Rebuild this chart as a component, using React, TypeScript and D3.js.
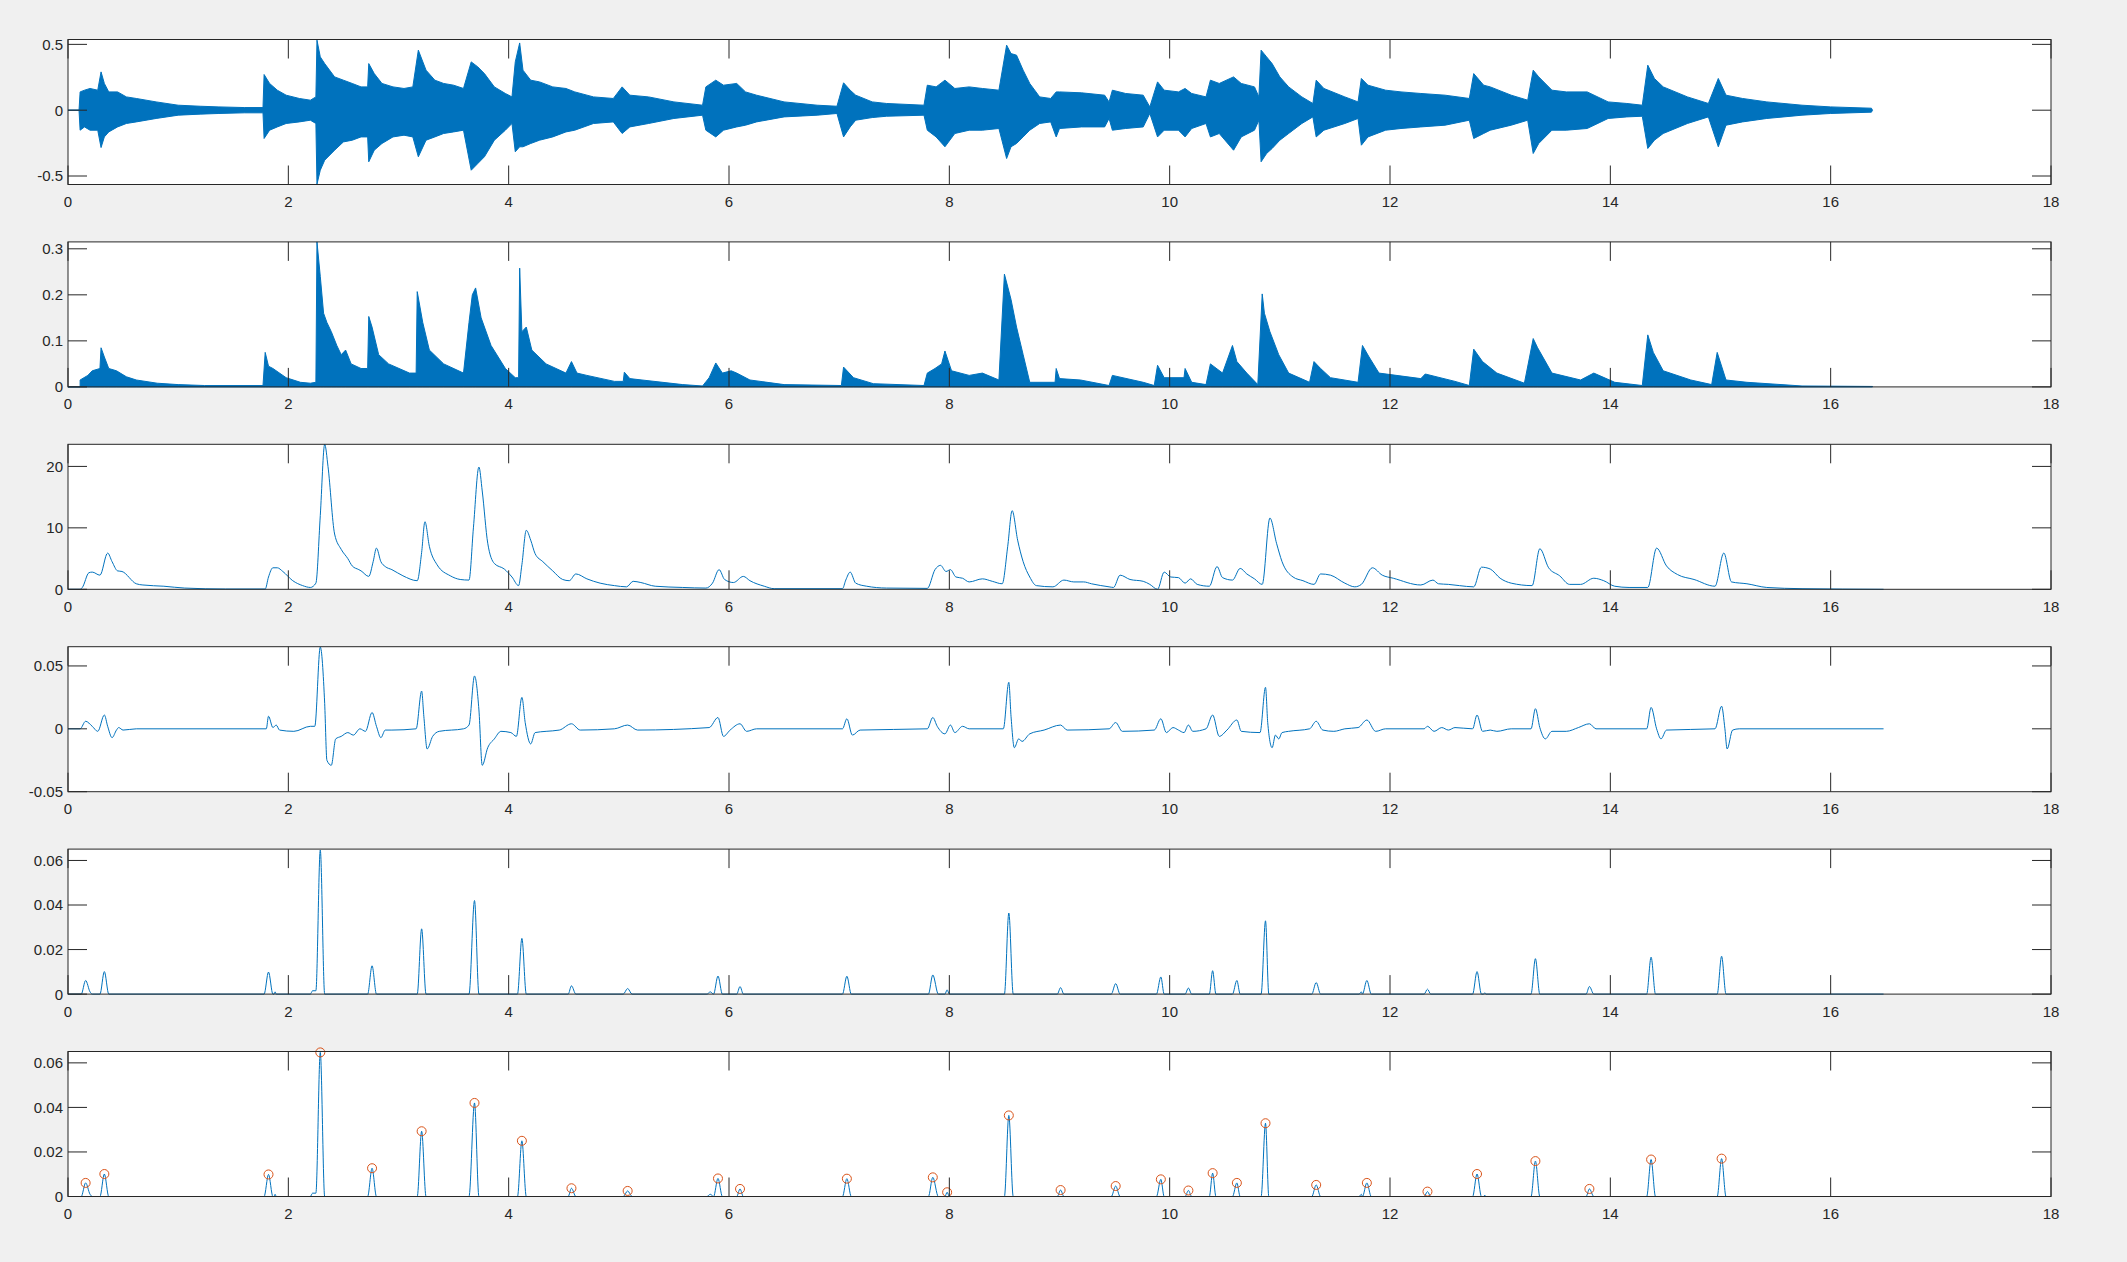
import React from "react";
import * as d3 from "d3";

// ---------- data ----------
const X_TICKS = [0, 2, 4, 6, 8, 10, 12, 14, 16, 18];

// panel 1: waveform envelope [t, upper, lower]
const waveEnvelope: [number, number, number][] = [
  [0, 0, 0], [0.1, 0, 0], [0.11, 0.139, -0.152], [0.15, 0.152, -0.127], [0.2, 0.165, -0.152], [0.27, 0.152, -0.152],
  [0.3, 0.291, -0.284], [0.33, 0.203, -0.203], [0.37, 0.139, -0.165], [0.45, 0.139, -0.127], [0.53, 0.101, -0.101],
  [0.62, 0.089, -0.089], [0.8, 0.063, -0.063], [1.0, 0.038, -0.038], [1.2, 0.03, -0.03], [1.37, 0.025, -0.025],
  [1.6, 0.02, -0.02], [1.77, 0.02, -0.02], [1.78, 0.271, -0.215], [1.83, 0.203, -0.152], [1.9, 0.152, -0.127],
  [1.98, 0.114, -0.101], [2.1, 0.089, -0.089], [2.2, 0.076, -0.076], [2.25, 0.101, -0.101], [2.26, 0.532, -0.562],
  [2.29, 0.405, -0.456], [2.33, 0.354, -0.38], [2.42, 0.253, -0.304], [2.5, 0.228, -0.241], [2.58, 0.203, -0.228],
  [2.66, 0.177, -0.203], [2.72, 0.177, -0.203], [2.73, 0.354, -0.392], [2.78, 0.278, -0.304], [2.85, 0.203, -0.253],
  [2.95, 0.177, -0.203], [3.05, 0.165, -0.19], [3.13, 0.177, -0.203], [3.18, 0.456, -0.354], [3.25, 0.304, -0.228],
  [3.33, 0.228, -0.203], [3.41, 0.203, -0.177], [3.5, 0.19, -0.165], [3.59, 0.165, -0.152], [3.66, 0.367, -0.456],
  [3.72, 0.329, -0.405], [3.78, 0.278, -0.354], [3.87, 0.177, -0.228], [3.97, 0.127, -0.152], [4.03, 0.101, -0.101],
  [4.06, 0.367, -0.316], [4.1, 0.511, -0.278], [4.13, 0.304, -0.278], [4.2, 0.228, -0.253], [4.28, 0.215, -0.228],
  [4.4, 0.177, -0.203], [4.52, 0.165, -0.165], [4.6, 0.139, -0.152], [4.77, 0.101, -0.101], [4.95, 0.089, -0.089],
  [5.03, 0.177, -0.177], [5.1, 0.114, -0.127], [5.27, 0.101, -0.101], [5.5, 0.063, -0.063], [5.76, 0.038, -0.038],
  [5.79, 0.177, -0.152], [5.88, 0.228, -0.203], [5.95, 0.19, -0.152], [6.07, 0.203, -0.127], [6.15, 0.139, -0.114],
  [6.25, 0.114, -0.089], [6.5, 0.063, -0.051], [6.8, 0.038, -0.038], [6.98, 0.03, -0.025], [7.04, 0.208, -0.203],
  [7.1, 0.152, -0.127], [7.15, 0.114, -0.076], [7.3, 0.063, -0.056], [7.43, 0.051, -0.046], [7.77, 0.038, -0.038],
  [7.8, 0.19, -0.152], [7.88, 0.177, -0.203], [7.96, 0.228, -0.278], [8.05, 0.165, -0.177], [8.18, 0.177, -0.152],
  [8.3, 0.165, -0.152], [8.45, 0.152, -0.139], [8.52, 0.494, -0.367], [8.56, 0.43, -0.278], [8.61, 0.418, -0.253],
  [8.67, 0.304, -0.203], [8.73, 0.203, -0.152], [8.82, 0.101, -0.101], [8.92, 0.089, -0.089], [8.97, 0.139, -0.203],
  [9.0, 0.139, -0.139], [9.2, 0.132, -0.127], [9.41, 0.114, -0.127], [9.45, 0.063, -0.063], [9.48, 0.152, -0.152],
  [9.6, 0.127, -0.139], [9.76, 0.114, -0.127], [9.82, 0.025, -0.025], [9.89, 0.215, -0.203], [9.95, 0.152, -0.152],
  [10.08, 0.139, -0.152], [10.14, 0.165, -0.203], [10.2, 0.127, -0.139], [10.33, 0.101, -0.101], [10.37, 0.228, -0.203],
  [10.45, 0.203, -0.177], [10.58, 0.253, -0.304], [10.65, 0.203, -0.203], [10.77, 0.177, -0.152], [10.81, 0.101, -0.076],
  [10.83, 0.456, -0.392], [10.88, 0.405, -0.329], [10.93, 0.354, -0.291], [11.0, 0.253, -0.228], [11.08, 0.177, -0.177],
  [11.2, 0.101, -0.101], [11.3, 0.051, -0.051], [11.33, 0.228, -0.203], [11.4, 0.165, -0.152], [11.59, 0.101, -0.101],
  [11.71, 0.063, -0.063], [11.74, 0.241, -0.266], [11.8, 0.19, -0.203], [11.96, 0.152, -0.152], [12.1, 0.139, -0.139],
  [12.28, 0.127, -0.127], [12.5, 0.114, -0.114], [12.72, 0.089, -0.076], [12.76, 0.278, -0.215], [12.85, 0.19, -0.177],
  [12.91, 0.177, -0.152], [13.1, 0.114, -0.114], [13.25, 0.076, -0.076], [13.3, 0.304, -0.329], [13.35, 0.253, -0.253],
  [13.47, 0.152, -0.152], [13.6, 0.139, -0.152], [13.79, 0.139, -0.139], [13.98, 0.063, -0.063], [14.15, 0.051, -0.051],
  [14.29, 0.038, -0.046], [14.34, 0.342, -0.291], [14.4, 0.241, -0.228], [14.48, 0.177, -0.177], [14.7, 0.101, -0.101],
  [14.89, 0.051, -0.051], [14.98, 0.241, -0.278], [15.05, 0.114, -0.114], [15.2, 0.089, -0.089], [15.42, 0.063, -0.063],
  [15.74, 0.038, -0.038], [16.0, 0.025, -0.025], [16.37, 0.015, -0.015], [16.38, 0, 0],
];

// panel 2: rectified / squared signal envelope [t, value]
const energyEnvelope: [number, number][] = [
  [0, 0], [0.11, 0], [0.11, 0.015], [0.18, 0.025], [0.22, 0.035], [0.29, 0.04], [0.3, 0.085], [0.33, 0.065],
  [0.37, 0.04], [0.44, 0.035], [0.53, 0.022], [0.62, 0.015], [0.81, 0.008], [1.0, 0.005], [1.24, 0.003], [1.77, 0.003],
  [1.79, 0.075], [1.82, 0.045], [1.86, 0.04], [1.98, 0.02], [2.11, 0.01], [2.2, 0.008], [2.25, 0.01], [2.26, 0.315],
  [2.29, 0.24], [2.32, 0.16], [2.35, 0.14], [2.39, 0.12], [2.44, 0.09], [2.48, 0.07], [2.52, 0.08], [2.57, 0.05],
  [2.66, 0.04], [2.72, 0.04], [2.73, 0.153], [2.76, 0.13], [2.82, 0.07], [2.91, 0.05], [3.1, 0.03], [3.16, 0.03],
  [3.17, 0.207], [3.22, 0.14], [3.28, 0.08], [3.41, 0.05], [3.59, 0.03], [3.64, 0.14], [3.67, 0.2], [3.7, 0.215],
  [3.75, 0.15], [3.84, 0.09], [3.97, 0.04], [4.06, 0.02], [4.09, 0.02], [4.1, 0.258], [4.12, 0.12], [4.16, 0.13],
  [4.21, 0.08], [4.34, 0.05], [4.52, 0.03], [4.57, 0.055], [4.62, 0.03], [4.71, 0.025], [4.96, 0.012], [5.04, 0.012],
  [5.05, 0.032], [5.1, 0.018], [5.21, 0.015], [5.58, 0.005], [5.76, 0.002], [5.82, 0.02], [5.88, 0.052], [5.94, 0.03],
  [6.02, 0.035], [6.07, 0.03], [6.19, 0.015], [6.5, 0.005], [7.02, 0.003], [7.04, 0.043], [7.13, 0.02], [7.31, 0.007],
  [7.77, 0.003], [7.8, 0.03], [7.87, 0.04], [7.93, 0.05], [7.96, 0.078], [8.02, 0.035], [8.18, 0.025], [8.3, 0.03],
  [8.45, 0.015], [8.5, 0.245], [8.56, 0.19], [8.61, 0.13], [8.67, 0.07], [8.73, 0.01], [8.96, 0.01], [8.97, 0.04],
  [9.0, 0.018], [9.19, 0.015], [9.45, 0.003], [9.48, 0.025], [9.76, 0.01], [9.86, 0.003], [9.89, 0.047], [9.95, 0.02],
  [10.13, 0.02], [10.14, 0.04], [10.2, 0.01], [10.33, 0.005], [10.37, 0.05], [10.48, 0.03], [10.57, 0.09], [10.61, 0.055],
  [10.7, 0.03], [10.8, 0.005], [10.84, 0.202], [10.86, 0.16], [10.91, 0.12], [10.99, 0.07], [11.08, 0.03], [11.27, 0.01],
  [11.31, 0.055], [11.37, 0.04], [11.46, 0.02], [11.71, 0.01], [11.75, 0.09], [11.81, 0.065], [11.9, 0.03], [12.28, 0.018],
  [12.32, 0.028], [12.59, 0.012], [12.72, 0.003], [12.76, 0.082], [12.84, 0.055], [12.97, 0.03], [13.22, 0.008],
  [13.3, 0.105], [13.34, 0.085], [13.47, 0.03], [13.73, 0.015], [13.85, 0.03], [14.04, 0.01], [14.29, 0.003],
  [14.34, 0.113], [14.39, 0.075], [14.48, 0.035], [14.73, 0.015], [14.92, 0.005], [14.97, 0.075], [15.05, 0.015],
  [15.24, 0.01], [15.74, 0.002], [16.38, 0.001], [16.38, 0],
];

// panel 3: smoothed envelope
const smoothEnvelope: [number, number][] = [
  [0, 0], [0.11, 0], [0.13, 0.3], [0.19, 2.7], [0.22, 2.8], [0.29, 2.3], [0.36, 5.9], [0.4, 4.5], [0.45, 3.0],
  [0.49, 2.9], [0.62, 0.9], [0.68, 0.7], [0.87, 0.5], [1.06, 0.2], [1.43, 0.05], [1.79, 0.05], [1.82, 2.0],
  [1.86, 3.5], [1.9, 3.5], [1.95, 2.9], [2.04, 1.4], [2.13, 0.6], [2.2, 0.3], [2.25, 1.0], [2.29, 12], [2.33, 23.6],
  [2.36, 20], [2.42, 9], [2.48, 6.5], [2.54, 5.0], [2.58, 3.8], [2.64, 3.2], [2.66, 3.0], [2.73, 2.1], [2.77, 4.5],
  [2.8, 6.7], [2.84, 4.5], [2.88, 3.7], [2.94, 3.2], [3.04, 2.2], [3.17, 1.4], [3.21, 6], [3.24, 11], [3.28, 7],
  [3.35, 4], [3.47, 2.2], [3.56, 1.6], [3.64, 1.5], [3.68, 10], [3.73, 19.9], [3.76, 16], [3.81, 7.5], [3.87, 4.2],
  [3.96, 3.3], [4.03, 2.0], [4.09, 0.6], [4.12, 4], [4.16, 9.6], [4.2, 8], [4.24, 5.8], [4.31, 4.5], [4.4, 3.0],
  [4.49, 1.6], [4.55, 1.4], [4.61, 2.5], [4.71, 1.7], [4.83, 1.0], [4.96, 0.6], [5.07, 0.4], [5.13, 1.3], [5.2, 1.1],
  [5.33, 0.5], [5.58, 0.3], [5.79, 0.2], [5.85, 1.0], [5.91, 3.2], [5.96, 1.6], [6.04, 1.1], [6.13, 2.1], [6.19, 1.4],
  [6.32, 0.5], [6.41, 0.1], [7.03, 0.1], [7.06, 1.5], [7.1, 2.8], [7.15, 1.0], [7.25, 0.5], [7.43, 0.2], [7.8, 0.15],
  [7.87, 3.2], [7.92, 3.9], [7.97, 2.9], [8.01, 3.2], [8.06, 2.0], [8.12, 1.8], [8.18, 1.2], [8.3, 1.7], [8.39, 1.3],
  [8.48, 0.9], [8.53, 7], [8.57, 12.8], [8.62, 8], [8.67, 4.5], [8.73, 2], [8.79, 0.6], [8.94, 0.4], [9.04, 1.5],
  [9.13, 1.2], [9.22, 1.2], [9.29, 0.9], [9.45, 0.4], [9.49, 0.3], [9.55, 2.3], [9.64, 1.6], [9.76, 1.3], [9.82, 0.8],
  [9.89, 0], [9.95, 2.8], [10.01, 2.0], [10.08, 1.9], [10.14, 1.0], [10.19, 1.7], [10.25, 0.8], [10.36, 0.5],
  [10.43, 3.7], [10.48, 1.9], [10.57, 1.5], [10.64, 3.4], [10.7, 2.5], [10.77, 1.7], [10.84, 0.8], [10.91, 11.6],
  [10.97, 7.5], [11.02, 4.5], [11.12, 2], [11.21, 1.4], [11.31, 0.8], [11.37, 2.5], [11.46, 2.3], [11.59, 1.0],
  [11.68, 0.4], [11.74, 0.8], [11.84, 3.5], [11.93, 2.3], [12.03, 1.8], [12.28, 0.7], [12.39, 1.5], [12.44, 0.9],
  [12.53, 0.8], [12.63, 0.6], [12.76, 0.4], [12.83, 3.6], [12.91, 3.3], [13.0, 1.8], [13.1, 1.0], [13.29, 0.6],
  [13.36, 6.6], [13.44, 3.5], [13.54, 2.2], [13.63, 0.8], [13.73, 0.8], [13.85, 1.8], [13.94, 1.4], [14.04, 0.5],
  [14.17, 0.3], [14.34, 0.3], [14.42, 6.7], [14.51, 3.8], [14.61, 2.4], [14.76, 1.6], [14.95, 0.5], [15.03, 5.9],
  [15.1, 1.2], [15.24, 0.9], [15.42, 0.3], [15.74, 0.1], [16.48, 0],
];

// panel 4: derivative of the envelope
const derivative: [number, number][] = [
  [0, 0], [0.11, 0], [0.16, 0.006], [0.22, 0.002], [0.27, -0.002], [0.33, 0.011], [0.36, 0.002], [0.4, -0.007],
  [0.44, -0.001], [0.46, 0.001], [0.5, -0.001], [0.62, 0], [1.8, 0], [1.82, 0.01], [1.86, 0.001], [1.89, 0.003],
  [1.92, -0.001], [2.05, -0.002], [2.2, 0.002], [2.24, 0.002], [2.29, 0.065], [2.33, 0.02], [2.35, -0.025],
  [2.39, -0.029], [2.43, -0.008], [2.48, -0.006], [2.54, -0.003], [2.59, -0.005], [2.65, 0], [2.7, -0.002],
  [2.76, 0.013], [2.8, 0.002], [2.84, -0.007], [2.88, -0.001], [2.94, -0.001], [3.16, 0], [3.21, 0.03], [3.23, 0.01],
  [3.26, -0.016], [3.31, -0.006], [3.37, -0.002], [3.59, 0], [3.64, 0.003], [3.69, 0.042], [3.73, 0.015],
  [3.76, -0.029], [3.81, -0.015], [3.87, -0.008], [3.93, -0.002], [4.02, -0.003], [4.07, -0.006], [4.12, 0.025],
  [4.15, 0.005], [4.2, -0.012], [4.24, -0.003], [4.34, -0.002], [4.46, -0.001], [4.57, 0.004], [4.65, -0.001],
  [4.96, 0], [5.08, 0.003], [5.17, -0.001], [5.82, 0.001], [5.9, 0.009], [5.95, -0.006], [6.01, -0.001], [6.1, 0.004],
  [6.16, -0.002], [6.25, 0], [7.03, 0], [7.07, 0.008], [7.12, -0.005], [7.19, -0.001], [7.8, 0], [7.85, 0.009],
  [7.89, 0.002], [7.96, -0.004], [8.01, 0.003], [8.05, -0.003], [8.12, 0.002], [8.18, 0], [8.49, 0], [8.54, 0.037],
  [8.56, 0.01], [8.59, -0.015], [8.63, -0.008], [8.66, -0.01], [8.73, -0.004], [8.86, -0.001], [9.01, 0.003],
  [9.07, -0.001], [9.45, 0], [9.51, 0.005], [9.57, -0.002], [9.86, -0.001], [9.92, 0.008], [9.97, -0.003],
  [10.03, 0.001], [10.08, -0.001], [10.13, -0.003], [10.17, 0.003], [10.21, -0.002], [10.33, 0], [10.39, 0.011],
  [10.45, -0.006], [10.52, -0.001], [10.61, 0.007], [10.65, -0.002], [10.82, -0.003], [10.87, 0.033], [10.89, 0.005],
  [10.93, -0.015], [10.96, -0.005], [10.99, -0.008], [11.02, -0.003], [11.08, -0.002], [11.27, 0], [11.33, 0.006],
  [11.39, -0.001], [11.49, -0.002], [11.59, 0], [11.71, 0.001], [11.79, 0.007], [11.87, -0.002], [11.96, 0],
  [12.31, 0], [12.34, 0.002], [12.4, -0.002], [12.47, 0.001], [12.53, -0.001], [12.59, 0.001], [12.75, 0],
  [12.79, 0.011], [12.84, -0.002], [12.91, -0.001], [12.97, -0.002], [13.1, 0], [13.28, 0], [13.32, 0.016],
  [13.36, 0.001], [13.41, -0.008], [13.47, -0.002], [13.6, -0.002], [13.71, 0.001], [13.81, 0.004], [13.87, 0],
  [14.33, 0], [14.37, 0.017], [14.42, 0], [14.46, -0.008], [14.51, -0.001], [14.95, 0], [15.01, 0.018], [15.04, 0],
  [15.06, -0.016], [15.11, -0.001], [15.17, 0], [16.48, 0],
];

// panels 5 and 6: half-wave rectified derivative
const rectified: [number, number][] = [
  [0, 0], [0.12, 0], [0.16, 0.0061], [0.2, 0.001], [0.22, 0], [0.29, 0], [0.33, 0.0101], [0.37, 0], [1.78, 0],
  [1.82, 0.0099], [1.86, 0], [1.87, 0], [1.88, 0.001], [1.89, 0], [2.2, 0], [2.22, 0.0015], [2.25, 0.0015],
  [2.29, 0.0647], [2.33, 0], [2.72, 0], [2.76, 0.0127], [2.8, 0], [3.17, 0], [3.21, 0.0293], [3.25, 0], [3.64, 0],
  [3.69, 0.042], [3.73, 0], [4.08, 0], [4.12, 0.025], [4.16, 0], [4.54, 0], [4.57, 0.0037], [4.61, 0], [5.04, 0],
  [5.08, 0.0025], [5.12, 0], [5.8, 0], [5.83, 0.001], [5.86, 0], [5.9, 0.0081], [5.94, 0], [6.07, 0], [6.1, 0.0034],
  [6.13, 0], [7.03, 0], [7.07, 0.008], [7.11, 0], [7.81, 0], [7.85, 0.0086], [7.9, 0], [7.96, 0], [7.98, 0.0019],
  [8.0, 0], [8.5, 0], [8.54, 0.0364], [8.58, 0], [8.98, 0], [9.01, 0.0029], [9.04, 0], [9.47, 0], [9.51, 0.0047],
  [9.55, 0], [9.88, 0], [9.92, 0.0077], [9.95, 0], [10.14, 0], [10.17, 0.0027], [10.2, 0], [10.36, 0],
  [10.39, 0.0105], [10.42, 0], [10.57, 0], [10.61, 0.0061], [10.64, 0], [10.83, 0], [10.87, 0.0329], [10.9, 0],
  [11.29, 0], [11.33, 0.0052], [11.37, 0], [11.72, 0], [11.74, 0.001], [11.75, 0], [11.79, 0.0061], [11.83, 0],
  [12.31, 0], [12.34, 0.0022], [12.37, 0], [12.75, 0], [12.79, 0.0101], [12.83, 0], [12.85, 0], [12.86, 0.0006],
  [12.87, 0], [13.28, 0], [13.32, 0.0159], [13.36, 0], [13.78, 0], [13.81, 0.0034], [13.85, 0], [14.33, 0],
  [14.37, 0.0166], [14.41, 0], [14.97, 0], [15.01, 0.017], [15.05, 0], [16.48, 0],
];

// panel 6: detected peaks
const peakTimes = [0.16, 0.33, 1.82, 2.29, 2.76, 3.21, 3.69, 4.12, 4.57, 5.08, 5.9, 6.1, 7.07, 7.85, 7.98, 8.54,
  9.01, 9.51, 9.92, 10.17, 10.39, 10.61, 10.87, 11.33, 11.79, 12.34, 12.79, 13.32, 13.81, 14.37, 15.01];
const peakValues = [0.0061, 0.0101, 0.0099, 0.0647, 0.0127, 0.0293, 0.042, 0.025, 0.0037, 0.0025, 0.0081, 0.0034,
  0.008, 0.0086, 0.0019, 0.0364, 0.0029, 0.0047, 0.0077, 0.0027, 0.0105, 0.0061, 0.0329, 0.0052, 0.0061, 0.0022,
  0.0101, 0.0159, 0.0034, 0.0166, 0.017];

const Y_TICKS = [
  [-0.5, 0, 0.5],
  [0, 0.1, 0.2, 0.3],
  [0, 10, 20],
  [-0.05, 0, 0.05],
  [0, 0.02, 0.04, 0.06],
  [0, 0.02, 0.04, 0.06],
];
const Y_DOMAINS: [number, number][] = [
  [-0.5645, 0.537],
  [0, 0.315],
  [0, 23.6],
  [-0.05, 0.0653],
  [0, 0.0651],
  [0, 0.0651],
];

// ---------- layout ----------
const W = 2127;
const H = 1262;
const LEFT = 68;
const RIGHT = 2051;
const TOP0 = 39.5;
const STEP = 202.4;
const PH = 145;
const TICK = 19;
const BLUE = "#0072BD";
const ORANGE = "#D95319";
const AX = "#262626";
const FONT = "'Liberation Sans', Arial, Helvetica, sans-serif";

const x = d3.scaleLinear().domain([0, 18]).range([LEFT, RIGHT]);

function Panel({ i, children }: { i: number; children: (y: d3.ScaleLinear<number, number>) => React.ReactNode }) {
  const top = TOP0 + i * STEP;
  const bottom = top + PH;
  const y = d3.scaleLinear().domain(Y_DOMAINS[i]).range([bottom, top]);
  const clipId = `clip${i}`;
  return (
    <g>
      <rect x={LEFT} y={top} width={RIGHT - LEFT} height={PH} fill="#fff" />
      <clipPath id={clipId}>
        <rect x={LEFT} y={top - 8} width={RIGHT - LEFT} height={PH + 16} />
      </clipPath>
      <g clipPath={`url(#${clipId})`}>{children(y)}</g>
      <g stroke={AX} strokeWidth={1} fill="none">
        {X_TICKS.map((t) => (
          <g key={t}>
            <line x1={x(t)} x2={x(t)} y1={bottom} y2={bottom - TICK} />
            <line x1={x(t)} x2={x(t)} y1={top} y2={top + TICK} />
          </g>
        ))}
        {Y_TICKS[i].map((v) => (
          <g key={v}>
            <line x1={LEFT} x2={LEFT + TICK} y1={y(v)} y2={y(v)} />
            <line x1={RIGHT} x2={RIGHT - TICK} y1={y(v)} y2={y(v)} />
          </g>
        ))}
        <rect x={LEFT} y={top} width={RIGHT - LEFT} height={PH} />
      </g>
      <g fill={AX} fontFamily={FONT} fontSize={15}>
        {X_TICKS.map((t) => (
          <text key={t} x={x(t)} y={bottom + 22.5} textAnchor="middle">
            {String(t)}
          </text>
        ))}
        {Y_TICKS[i].map((v) => (
          <text key={v} x={LEFT - 5} y={y(v)} dy="0.36em" textAnchor="end">
            {String(v)}
          </text>
        ))}
      </g>
    </g>
  );
}

export default function App() {
  const smoothPath = (y: d3.ScaleLinear<number, number>, data: [number, number][]) =>
    d3
      .line<[number, number]>()
      .x((d) => x(d[0]))
      .y((d) => y(d[1]))
      .curve(d3.curveMonotoneX)(data) || "";

  return (
    <svg
      width={W}
      height={H}
      viewBox={`0 0 ${W} ${H}`}
      style={{ position: "fixed", left: 0, top: 0, background: "#F0F0F0" }}
    >
      <rect x={0} y={0} width={W} height={H} fill="#F0F0F0" />
      <Panel i={0}>
        {(y) => {
          const area = d3
            .area<[number, number, number]>()
            .x((d) => x(d[0]))
            .y0((d) => y(d[2]))
            .y1((d) => y(d[1]))(waveEnvelope) || "";
          return <path d={area} fill={BLUE} stroke={BLUE} strokeWidth={1} />;
        }}
      </Panel>
      <Panel i={1}>
        {(y) => {
          const area = d3
            .area<[number, number]>()
            .x((d) => x(d[0]))
            .y0(() => y(0))
            .y1((d) => y(d[1]))(energyEnvelope) || "";
          return <path d={area} fill={BLUE} stroke={BLUE} strokeWidth={1} />;
        }}
      </Panel>
      <Panel i={2}>
        {(y) => <path d={smoothPath(y, smoothEnvelope)} fill="none" stroke={BLUE} strokeWidth={1} />}
      </Panel>
      <Panel i={3}>
        {(y) => <path d={smoothPath(y, derivative)} fill="none" stroke={BLUE} strokeWidth={1} />}
      </Panel>
      <Panel i={4}>
        {(y) => <path d={smoothPath(y, rectified)} fill="none" stroke={BLUE} strokeWidth={1} />}
      </Panel>
      <Panel i={5}>
        {(y) => (
          <g>
            <path d={smoothPath(y, rectified)} fill="none" stroke={BLUE} strokeWidth={1} />
            {peakTimes.map((t, k) => (
              <circle key={k} cx={x(t)} cy={y(peakValues[k])} r={4.5} fill="none" stroke={ORANGE} strokeWidth={1} />
            ))}
          </g>
        )}
      </Panel>
    </svg>
  );
}
